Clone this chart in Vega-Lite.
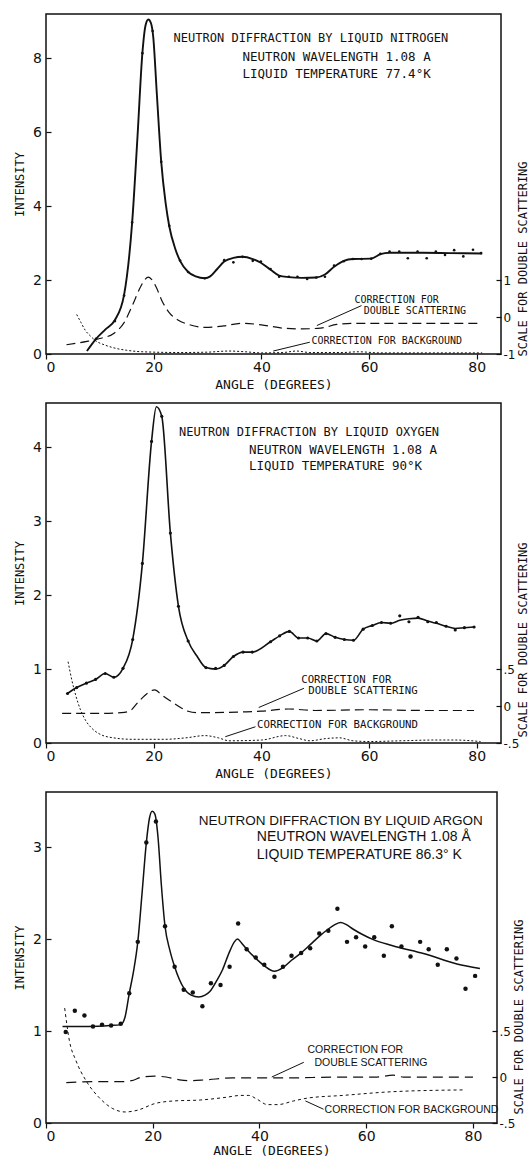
{
  "$schema": "https://vega.github.io/schema/vega-lite/v6.json",
  "padding": {"left": 12, "top": 13, "right": 1, "bottom": 0},
  "spacing": 10,
  "background": "white",
  "config": {
    "view": {"stroke": "#111", "strokeWidth": 1.5},
    "axis": {"grid": false, "domain": false, "tickColor": "#111", "labelColor": "#111", "titleColor": "#111", "labelFont": "DejaVu Sans", "labelFontSize": 14, "titleFont": "DejaVu Sans Mono", "titleFontWeight": "normal", "titleFontSize": 12, "tickWidth": 1.2},
    "text": {"color": "#111"}
  },
  "datasets": {
    "n_curve": [
      {"angle":7.6,"intensity":0.08},{"angle":9.3,"intensity":0.41},{"angle":11.0,"intensity":0.66},{"angle":12.8,"intensity":0.92},{"angle":14.5,"intensity":1.6},{"angle":16.0,"intensity":3.56},{"angle":17.0,"intensity":5.9},{"angle":17.9,"intensity":8.14},{"angle":18.5,"intensity":8.9},{"angle":19.0,"intensity":9.05},{"angle":19.5,"intensity":8.95},{"angle":19.9,"intensity":8.6},{"angle":20.6,"intensity":7.0},{"angle":21.4,"intensity":5.2},{"angle":22.2,"intensity":4.1},{"angle":22.9,"intensity":3.45},{"angle":24.0,"intensity":2.85},{"angle":24.9,"intensity":2.52},{"angle":26.4,"intensity":2.22},{"angle":27.8,"intensity":2.1},{"angle":29.5,"intensity":2.05},{"angle":30.5,"intensity":2.1},{"angle":31.8,"intensity":2.3},{"angle":33.1,"intensity":2.5},{"angle":34.8,"intensity":2.6},{"angle":36.5,"intensity":2.63},{"angle":38.4,"intensity":2.57},{"angle":39.9,"intensity":2.47},{"angle":41.7,"intensity":2.28},{"angle":43.3,"intensity":2.12},{"angle":45.1,"intensity":2.08},{"angle":47.5,"intensity":2.06},{"angle":50.2,"intensity":2.07},{"angle":51.8,"intensity":2.15},{"angle":53.5,"intensity":2.36},{"angle":55.3,"intensity":2.52},{"angle":57.0,"intensity":2.57},{"angle":60.4,"intensity":2.58},{"angle":62.1,"intensity":2.7},{"angle":63.8,"intensity":2.74},{"angle":70,"intensity":2.74},{"angle":75,"intensity":2.73},{"angle":81,"intensity":2.72}
    ],
    "n_pts": [
      {"angle":9.3,"intensity":0.41},{"angle":12.8,"intensity":0.89},{"angle":14.5,"intensity":1.58},{"angle":16.0,"intensity":3.56},{"angle":17.9,"intensity":8.14},{"angle":19.8,"intensity":8.74},{"angle":21.4,"intensity":5.2},{"angle":22.9,"intensity":3.47},{"angle":24.9,"intensity":2.53},{"angle":26.4,"intensity":2.22},{"angle":29.5,"intensity":2.05},{"angle":33.1,"intensity":2.54},{"angle":34.8,"intensity":2.48},{"angle":36.5,"intensity":2.63},{"angle":38.4,"intensity":2.52},{"angle":39.9,"intensity":2.5},{"angle":41.7,"intensity":2.3},{"angle":43.3,"intensity":2.09},{"angle":45.1,"intensity":2.09},{"angle":46.7,"intensity":2.09},{"angle":48.5,"intensity":2.03},{"angle":50.2,"intensity":2.07},{"angle":51.8,"intensity":2.09},{"angle":53.5,"intensity":2.39},{"angle":55.3,"intensity":2.51},{"angle":57.0,"intensity":2.57},{"angle":58.6,"intensity":2.57},{"angle":60.4,"intensity":2.58},{"angle":62.1,"intensity":2.71},{"angle":63.8,"intensity":2.77},{"angle":65.6,"intensity":2.77},{"angle":67.2,"intensity":2.59},{"angle":69.0,"intensity":2.77},{"angle":70.7,"intensity":2.59},{"angle":72.4,"intensity":2.77},{"angle":74.1,"intensity":2.68},{"angle":75.8,"intensity":2.81},{"angle":77.5,"intensity":2.64},{"angle":79.3,"intensity":2.82},{"angle":80.8,"intensity":2.73}
    ],
    "n_bg": [
      {"angle":5.7,"intensity":1.07},{"angle":6.5,"intensity":0.85},{"angle":7.3,"intensity":0.64},{"angle":8.3,"intensity":0.48},{"angle":9.3,"intensity":0.35},{"angle":10.8,"intensity":0.25},{"angle":12.5,"intensity":0.17},{"angle":15,"intensity":0.1},{"angle":18,"intensity":0.06},{"angle":25,"intensity":0.04},{"angle":30,"intensity":0.05},{"angle":34,"intensity":0.08},{"angle":37,"intensity":0.06},{"angle":40,"intensity":0.03},{"angle":44,"intensity":0.04},{"angle":46.5,"intensity":0.08},{"angle":49,"intensity":0.04},{"angle":55,"intensity":0.04},{"angle":58,"intensity":0.06},{"angle":62,"intensity":0.03},{"angle":81,"intensity":0.03}
    ],
    "n_double": [
      {"angle":3.8,"scale":-0.75},{"angle":7.6,"scale":-0.66},{"angle":10,"scale":-0.58},{"angle":12.5,"scale":-0.45},{"angle":14.5,"scale":-0.15},{"angle":16.0,"scale":0.3},{"angle":17.5,"scale":0.8},{"angle":18.4,"scale":1.02},{"angle":19.0,"scale":1.08},{"angle":19.6,"scale":1.02},{"angle":20.5,"scale":0.8},{"angle":21.5,"scale":0.45},{"angle":23.0,"scale":0.1},{"angle":24.5,"scale":-0.08},{"angle":26.5,"scale":-0.2},{"angle":29.5,"scale":-0.28},{"angle":33,"scale":-0.24},{"angle":36.3,"scale":-0.17},{"angle":40,"scale":-0.21},{"angle":44,"scale":-0.3},{"angle":47.5,"scale":-0.32},{"angle":51,"scale":-0.3},{"angle":54,"scale":-0.2},{"angle":57,"scale":-0.17},{"angle":81,"scale":-0.17}
    ],
    "n_arrows": [
      {"angle":50.3,"intensity":0.77,"angle2":58.6,"intensity2":1.31},
      {"angle":42.2,"intensity":0.08,"angle2":49.0,"intensity2":0.32}
    ],
    "n_text": [
      {"angle":23.7,"intensity":8.55,"label":"NEUTRON DIFFRACTION BY LIQUID NITROGEN","kind":"title"},
      {"angle":36.5,"intensity":8.04,"label":"NEUTRON WAVELENGTH  1.08 A","kind":"sub"},
      {"angle":36.5,"intensity":7.58,"label":"LIQUID TEMPERATURE  77.4°K","kind":"sub"},
      {"angle":57.3,"intensity":1.45,"label":"CORRECTION FOR","kind":"note"},
      {"angle":59.0,"intensity":1.16,"label":"DOUBLE SCATTERING","kind":"note"},
      {"angle":49.3,"intensity":0.35,"label":"CORRECTION FOR BACKGROUND","kind":"note"}
    ],
    "o_curve": [
      {"angle":4.0,"intensity":0.67},{"angle":5.7,"intensity":0.75},{"angle":7.5,"intensity":0.81},{"angle":9.2,"intensity":0.86},{"angle":11.0,"intensity":0.94},{"angle":12.6,"intensity":0.89},{"angle":14.3,"intensity":1.01},{"angle":16.1,"intensity":1.4},{"angle":17.9,"intensity":2.43},{"angle":19.6,"intensity":4.08},{"angle":20.5,"intensity":4.55},{"angle":21.5,"intensity":4.42},{"angle":23.1,"intensity":2.84},{"angle":24.6,"intensity":1.85},{"angle":26.4,"intensity":1.38},{"angle":28,"intensity":1.18},{"angle":29.7,"intensity":1.02},{"angle":31.5,"intensity":1.0},{"angle":33.1,"intensity":1.05},{"angle":34.8,"intensity":1.17},{"angle":36.6,"intensity":1.23},{"angle":38.3,"intensity":1.23},{"angle":41.7,"intensity":1.37},{"angle":43.4,"intensity":1.45},{"angle":45.2,"intensity":1.51},{"angle":46.9,"intensity":1.42},{"angle":48.6,"intensity":1.42},{"angle":50.3,"intensity":1.38},{"angle":52.0,"intensity":1.48},{"angle":53.7,"intensity":1.43},{"angle":55.4,"intensity":1.4},{"angle":57.1,"intensity":1.39},{"angle":58.9,"intensity":1.54},{"angle":60.6,"intensity":1.59},{"angle":62.3,"intensity":1.63},{"angle":64.0,"intensity":1.62},{"angle":65.7,"intensity":1.66},{"angle":67.4,"intensity":1.68},{"angle":69.1,"intensity":1.69},{"angle":70.9,"intensity":1.65},{"angle":72.5,"intensity":1.62},{"angle":74.3,"intensity":1.58},{"angle":76.0,"intensity":1.55},{"angle":77.7,"intensity":1.56},{"angle":79.5,"intensity":1.57}
    ],
    "o_pts": [
      {"angle":4.0,"intensity":0.67},{"angle":5.7,"intensity":0.75},{"angle":7.5,"intensity":0.81},{"angle":9.2,"intensity":0.86},{"angle":11.0,"intensity":0.94},{"angle":12.6,"intensity":0.89},{"angle":14.3,"intensity":1.01},{"angle":16.1,"intensity":1.4},{"angle":17.9,"intensity":2.43},{"angle":19.6,"intensity":4.08},{"angle":21.5,"intensity":4.42},{"angle":23.1,"intensity":2.84},{"angle":24.6,"intensity":1.85},{"angle":26.4,"intensity":1.38},{"angle":29.7,"intensity":1.02},{"angle":31.5,"intensity":1.01},{"angle":33.1,"intensity":1.05},{"angle":34.8,"intensity":1.17},{"angle":36.6,"intensity":1.23},{"angle":38.3,"intensity":1.23},{"angle":41.7,"intensity":1.37},{"angle":43.4,"intensity":1.45},{"angle":45.2,"intensity":1.51},{"angle":46.9,"intensity":1.42},{"angle":48.6,"intensity":1.42},{"angle":50.3,"intensity":1.38},{"angle":52.0,"intensity":1.48},{"angle":53.7,"intensity":1.43},{"angle":55.4,"intensity":1.4},{"angle":57.1,"intensity":1.39},{"angle":58.9,"intensity":1.54},{"angle":60.6,"intensity":1.59},{"angle":62.3,"intensity":1.63},{"angle":64.0,"intensity":1.62},{"angle":65.7,"intensity":1.72},{"angle":67.4,"intensity":1.64},{"angle":69.1,"intensity":1.7},{"angle":70.9,"intensity":1.64},{"angle":72.5,"intensity":1.63},{"angle":74.3,"intensity":1.58},{"angle":76.0,"intensity":1.53},{"angle":77.7,"intensity":1.56},{"angle":79.5,"intensity":1.57}
    ],
    "o_bg": [
      {"angle":4.1,"intensity":1.1},{"angle":4.8,"intensity":0.85},{"angle":5.5,"intensity":0.65},{"angle":6.4,"intensity":0.45},{"angle":7.4,"intensity":0.3},{"angle":8.5,"intensity":0.2},{"angle":10,"intensity":0.12},{"angle":12.5,"intensity":0.07},{"angle":16,"intensity":0.05},{"angle":22,"intensity":0.05},{"angle":26,"intensity":0.07},{"angle":29.5,"intensity":0.1},{"angle":32,"intensity":0.07},{"angle":34,"intensity":0.03},{"angle":40,"intensity":0.04},{"angle":44.5,"intensity":0.1},{"angle":47,"intensity":0.06},{"angle":49,"intensity":0.03},{"angle":52,"intensity":0.06},{"angle":54.5,"intensity":0.07},{"angle":57,"intensity":0.03},{"angle":60,"intensity":0.02},{"angle":66,"intensity":0.03},{"angle":72,"intensity":0.04},{"angle":76,"intensity":0.04},{"angle":80.7,"intensity":0.02}
    ],
    "o_double": [
      {"angle":3.0,"scale":-0.1},{"angle":10,"scale":-0.1},{"angle":14,"scale":-0.09},{"angle":15.5,"scale":-0.07},{"angle":17.2,"scale":0.06},{"angle":18.8,"scale":0.17},{"angle":20.2,"scale":0.22},{"angle":21.5,"scale":0.15},{"angle":23.3,"scale":0.06},{"angle":25,"scale":-0.02},{"angle":26.4,"scale":-0.07},{"angle":28,"scale":-0.09},{"angle":30.1,"scale":-0.09},{"angle":36.2,"scale":-0.08},{"angle":40,"scale":-0.07},{"angle":45,"scale":-0.04},{"angle":50,"scale":-0.06},{"angle":60,"scale":-0.05},{"angle":70,"scale":-0.06},{"angle":79.5,"scale":-0.06}
    ],
    "o_arrows": [
      {"angle":39.5,"intensity":0.48,"angle2":47.9,"intensity2":0.74},
      {"angle":33.3,"intensity":0.085,"angle2":38.9,"intensity2":0.22}
    ],
    "o_text": [
      {"angle":24.7,"intensity":4.21,"label":"NEUTRON DIFFRACTION BY LIQUID OXYGEN","kind":"title"},
      {"angle":37.7,"intensity":3.96,"label":"NEUTRON WAVELENGTH  1.08 A","kind":"sub"},
      {"angle":37.7,"intensity":3.75,"label":"LIQUID TEMPERATURE   90°K","kind":"sub"},
      {"angle":47.4,"intensity":0.85,"label":"CORRECTION FOR","kind":"note"},
      {"angle":48.7,"intensity":0.7,"label":"DOUBLE SCATTERING","kind":"note"},
      {"angle":39.2,"intensity":0.24,"label":"CORRECTION FOR BACKGROUND","kind":"note"}
    ],
    "a_curve": [
      {"angle":3.1,"intensity":1.05},{"angle":8,"intensity":1.05},{"angle":12,"intensity":1.06},{"angle":14.0,"intensity":1.07},{"angle":14.8,"intensity":1.15},{"angle":15.6,"intensity":1.41},{"angle":16.4,"intensity":1.65},{"angle":17.2,"intensity":1.97},{"angle":18.0,"intensity":2.5},{"angle":18.8,"intensity":3.05},{"angle":19.4,"intensity":3.32},{"angle":19.9,"intensity":3.39},{"angle":20.4,"intensity":3.36},{"angle":21.0,"intensity":3.1},{"angle":21.6,"intensity":2.6},{"angle":22.3,"intensity":2.14},{"angle":23.2,"intensity":1.88},{"angle":24.1,"intensity":1.7},{"angle":25.8,"intensity":1.47},{"angle":27.2,"intensity":1.39},{"angle":28.6,"intensity":1.37},{"angle":29.8,"intensity":1.39},{"angle":30.7,"intensity":1.43},{"angle":32.0,"intensity":1.55},{"angle":33.1,"intensity":1.67},{"angle":34.3,"intensity":1.85},{"angle":35.3,"intensity":1.97},{"angle":35.9,"intensity":2.0},{"angle":36.6,"intensity":1.96},{"angle":37.6,"intensity":1.89},{"angle":39.3,"intensity":1.79},{"angle":40.9,"intensity":1.71},{"angle":42.8,"intensity":1.65},{"angle":44.4,"intensity":1.69},{"angle":46.0,"intensity":1.77},{"angle":47.8,"intensity":1.85},{"angle":49.5,"intensity":1.94},{"angle":51.2,"intensity":2.03},{"angle":52.9,"intensity":2.11},{"angle":54.2,"intensity":2.16},{"angle":55.2,"intensity":2.18},{"angle":56.2,"intensity":2.16},{"angle":57.5,"intensity":2.11},{"angle":59.3,"intensity":2.05},{"angle":61.1,"intensity":2.0},{"angle":64.8,"intensity":1.93},{"angle":70.9,"intensity":1.84},{"angle":77.0,"intensity":1.73},{"angle":81.3,"intensity":1.68}
    ],
    "a_pts": [
      {"angle":3.7,"intensity":0.99},{"angle":5.4,"intensity":1.22},{"angle":7.2,"intensity":1.17},{"angle":8.8,"intensity":1.05},{"angle":10.5,"intensity":1.07},{"angle":12.2,"intensity":1.06},{"angle":14.0,"intensity":1.08},{"angle":15.6,"intensity":1.41},{"angle":17.2,"intensity":1.97},{"angle":18.8,"intensity":3.05},{"angle":20.6,"intensity":3.28},{"angle":22.3,"intensity":2.14},{"angle":24.1,"intensity":1.7},{"angle":25.8,"intensity":1.45},{"angle":27.5,"intensity":1.42},{"angle":29.3,"intensity":1.27},{"angle":30.9,"intensity":1.52},{"angle":32.7,"intensity":1.5},{"angle":34.4,"intensity":1.7},{"angle":36.0,"intensity":2.17},{"angle":37.6,"intensity":1.89},{"angle":39.3,"intensity":1.8},{"angle":40.9,"intensity":1.72},{"angle":42.8,"intensity":1.59},{"angle":44.4,"intensity":1.7},{"angle":46.0,"intensity":1.82},{"angle":47.8,"intensity":1.85},{"angle":49.5,"intensity":1.9},{"angle":51.2,"intensity":2.06},{"angle":52.9,"intensity":2.09},{"angle":54.6,"intensity":2.33},{"angle":56.4,"intensity":1.97},{"angle":58.1,"intensity":2.02},{"angle":59.8,"intensity":1.92},{"angle":61.5,"intensity":2.02},{"angle":63.3,"intensity":1.82},{"angle":64.8,"intensity":2.14},{"angle":66.6,"intensity":1.92},{"angle":68.3,"intensity":1.81},{"angle":70.1,"intensity":1.97},{"angle":71.7,"intensity":1.89},{"angle":73.4,"intensity":1.72},{"angle":75.1,"intensity":1.89},{"angle":76.9,"intensity":1.79},{"angle":78.6,"intensity":1.46},{"angle":80.4,"intensity":1.6}
    ],
    "a_bg": [
      {"angle":3.5,"intensity":1.25},{"angle":4.4,"intensity":0.89},{"angle":5.6,"intensity":0.68},{"angle":7.5,"intensity":0.46},{"angle":9.9,"intensity":0.28},{"angle":12.4,"intensity":0.16},{"angle":14.8,"intensity":0.12},{"angle":17.2,"intensity":0.14},{"angle":20.3,"intensity":0.21},{"angle":24.0,"intensity":0.24},{"angle":28.9,"intensity":0.25},{"angle":33.8,"intensity":0.28},{"angle":36.5,"intensity":0.3},{"angle":38,"intensity":0.3},{"angle":39.5,"intensity":0.26},{"angle":41.5,"intensity":0.2},{"angle":43.4,"intensity":0.2},{"angle":46.4,"intensity":0.24},{"angle":48.9,"intensity":0.27},{"angle":55.6,"intensity":0.3},{"angle":64.8,"intensity":0.34},{"angle":78.3,"intensity":0.36}
    ],
    "a_double": [
      {"angle":3.8,"scale":-0.06},{"angle":10,"scale":-0.05},{"angle":14.5,"scale":-0.05},{"angle":16,"scale":-0.04},{"angle":18,"scale":0.0},{"angle":20.3,"scale":0.01},{"angle":22.5,"scale":0.0},{"angle":25,"scale":-0.03},{"angle":27,"scale":-0.04},{"angle":30,"scale":-0.03},{"angle":35,"scale":-0.01},{"angle":45,"scale":-0.01},{"angle":55,"scale":0.0},{"angle":62,"scale":0.0},{"angle":65,"scale":0.02},{"angle":67,"scale":0.0},{"angle":80,"scale":0.0}
    ],
    "a_arrows": [
      {"angle":42.3,"intensity":0.5,"angle2":48.3,"intensity2":0.66},
      {"angle":48.6,"intensity":0.24,"angle2":52.0,"intensity2":0.15}
    ],
    "a_text": [
      {"angle":28.6,"intensity":3.28,"label":"NEUTRON  DIFFRACTION  BY LIQUID ARGON","kind":"title"},
      {"angle":39.5,"intensity":3.11,"label":"NEUTRON  WAVELENGTH  1.08 Å","kind":"sub"},
      {"angle":39.5,"intensity":2.92,"label":"LIQUID  TEMPERATURE  86.3° K","kind":"sub"},
      {"angle":49.0,"intensity":0.79,"label":"CORRECTION  FOR","kind":"note"},
      {"angle":50.3,"intensity":0.65,"label":"DOUBLE  SCATTERING","kind":"note"},
      {"angle":52.2,"intensity":0.14,"label":"CORRECTION FOR BACKGROUND","kind":"note"}
    ]
  },
  "vconcat": [
    {
      "width": 455, "height": 340,
      "resolve": {"scale": {"y": "independent"}},
      "layer": [
        {
          "layer": [
            {
              "data": {"name": "n_curve"},
              "mark": {"type": "line", "interpolate": "monotone", "strokeWidth": 1.9, "color": "#111"},
              "encoding": {
                "x": {"field": "angle", "type": "quantitative", "scale": {"domain": [0, 84.5], "nice": false, "zero": false},
                      "axis": {"values": [0, 20, 40, 60, 80], "title": "ANGLE  (DEGREES)", "titleFontSize": 13, "tickSize": 5, "labelPadding": 1, "minExtent": 20, "maxExtent": 20, "titlePadding": 4}},
                "y": {"field": "intensity", "type": "quantitative", "scale": {"domain": [0, 9.2], "nice": false, "zero": false},
                      "axis": {"values": [0, 1, 2, 3, 4, 5, 6, 7, 8, 9], "format": "d", "labelExpr": "datum.value % 2 === 0 ? datum.label : ''", "title": "INTENSITY", "tickSize": -5, "labelPadding": 9.5, "minExtent": 20, "maxExtent": 20, "titlePadding": 0}}
              }
            },
            {
              "data": {"name": "n_pts"},
              "mark": {"type": "circle", "size": 7, "color": "#111", "opacity": 1},
              "encoding": {"x": {"field": "angle", "type": "quantitative"}, "y": {"field": "intensity", "type": "quantitative"}}
            },
            {
              "data": {"name": "n_bg"},
              "mark": {"type": "line", "interpolate": "monotone", "strokeDash": [2, 2], "strokeWidth": 1, "color": "#111"},
              "encoding": {"x": {"field": "angle", "type": "quantitative"}, "y": {"field": "intensity", "type": "quantitative"}}
            },
            {
              "data": {"name": "n_arrows"},
              "mark": {"type": "rule", "strokeWidth": 1, "color": "#111"},
              "encoding": {"x": {"field": "angle", "type": "quantitative"}, "y": {"field": "intensity", "type": "quantitative"}, "x2": {"field": "angle2"}, "y2": {"field": "intensity2"}}
            },
            {
              "data": {"name": "n_text"},
              "transform": [{"filter": "datum.kind === 'title'"}],
              "mark": {"type": "text", "align": "left", "baseline": "middle", "font": "DejaVu Sans Mono", "fontSize": 12},
              "encoding": {"x": {"field": "angle", "type": "quantitative"}, "y": {"field": "intensity", "type": "quantitative"}, "text": {"field": "label"}}
            },
            {
              "data": {"name": "n_text"},
              "transform": [{"filter": "datum.kind === 'sub'"}],
              "mark": {"type": "text", "align": "left", "baseline": "middle", "font": "DejaVu Sans Mono", "fontSize": 12.5},
              "encoding": {"x": {"field": "angle", "type": "quantitative"}, "y": {"field": "intensity", "type": "quantitative"}, "text": {"field": "label"}}
            },
            {
              "data": {"name": "n_text"},
              "transform": [{"filter": "datum.kind === 'note'"}],
              "mark": {"type": "text", "align": "left", "baseline": "middle", "font": "DejaVu Sans Mono", "fontSize": 10},
              "encoding": {"x": {"field": "angle", "type": "quantitative"}, "y": {"field": "intensity", "type": "quantitative"}, "text": {"field": "label"}}
            }
          ]
        },
        {
          "data": {"name": "n_double"},
          "mark": {"type": "line", "interpolate": "monotone", "strokeDash": [9, 5], "strokeWidth": 1.2, "color": "#111"},
          "encoding": {
            "x": {"field": "angle", "type": "quantitative"},
            "y": {"field": "scale", "type": "quantitative", "scale": {"domain": [-1, 8.2], "nice": false, "zero": false},
                  "axis": {"orient": "right", "values": [-1, 0, 1], "format": "d", "labelExpr": "replace(datum.label, '−', '-')", "labelFontSize": 12, "title": "SCALE FOR DOUBLE SCATTERING", "titleAngle": 270, "titleBaseline": "top", "titleAlign": "left", "titleY": 342, "tickSize": -5, "labelPadding": 7, "minExtent": 14, "maxExtent": 14, "titlePadding": 2}}
          }
        }
      ]
    },
    {
      "width": 455, "height": 340,
      "resolve": {"scale": {"y": "independent"}},
      "layer": [
        {
          "layer": [
            {
              "data": {"name": "o_curve"},
              "mark": {"type": "line", "interpolate": "monotone", "strokeWidth": 1.6, "color": "#111"},
              "encoding": {
                "x": {"field": "angle", "type": "quantitative", "scale": {"domain": [0, 84.5], "nice": false, "zero": false},
                      "axis": {"values": [0, 20, 40, 60, 80], "title": "ANGLE  (DEGREES)", "titleFontSize": 13, "tickSize": 5, "labelPadding": 1, "minExtent": 20, "maxExtent": 20, "titlePadding": 4}},
                "y": {"field": "intensity", "type": "quantitative", "scale": {"domain": [0, 4.6], "nice": false, "zero": false},
                      "axis": {"values": [0, 1, 2, 3, 4], "format": "d", "title": "INTENSITY", "tickSize": -5, "labelPadding": 9.5, "minExtent": 20, "maxExtent": 20, "titlePadding": 0}}
              }
            },
            {
              "data": {"name": "o_pts"},
              "mark": {"type": "circle", "size": 10, "color": "#111", "opacity": 1},
              "encoding": {"x": {"field": "angle", "type": "quantitative"}, "y": {"field": "intensity", "type": "quantitative"}}
            },
            {
              "data": {"name": "o_bg"},
              "mark": {"type": "line", "interpolate": "monotone", "strokeDash": [2, 2], "strokeWidth": 1, "color": "#111"},
              "encoding": {"x": {"field": "angle", "type": "quantitative"}, "y": {"field": "intensity", "type": "quantitative"}}
            },
            {
              "data": {"name": "o_arrows"},
              "mark": {"type": "rule", "strokeWidth": 1, "color": "#111"},
              "encoding": {"x": {"field": "angle", "type": "quantitative"}, "y": {"field": "intensity", "type": "quantitative"}, "x2": {"field": "angle2"}, "y2": {"field": "intensity2"}}
            },
            {
              "data": {"name": "o_text"},
              "transform": [{"filter": "datum.kind === 'title'"}],
              "mark": {"type": "text", "align": "left", "baseline": "middle", "font": "DejaVu Sans Mono", "fontSize": 12},
              "encoding": {"x": {"field": "angle", "type": "quantitative"}, "y": {"field": "intensity", "type": "quantitative"}, "text": {"field": "label"}}
            },
            {
              "data": {"name": "o_text"},
              "transform": [{"filter": "datum.kind === 'sub'"}],
              "mark": {"type": "text", "align": "left", "baseline": "middle", "font": "DejaVu Sans Mono", "fontSize": 12.5},
              "encoding": {"x": {"field": "angle", "type": "quantitative"}, "y": {"field": "intensity", "type": "quantitative"}, "text": {"field": "label"}}
            },
            {
              "data": {"name": "o_text"},
              "transform": [{"filter": "datum.kind === 'note'"}],
              "mark": {"type": "text", "align": "left", "baseline": "middle", "font": "DejaVu Sans Mono", "fontSize": 10.7},
              "encoding": {"x": {"field": "angle", "type": "quantitative"}, "y": {"field": "intensity", "type": "quantitative"}, "text": {"field": "label"}}
            }
          ]
        },
        {
          "data": {"name": "o_double"},
          "mark": {"type": "line", "interpolate": "monotone", "strokeDash": [9, 5], "strokeWidth": 1.2, "color": "#111"},
          "encoding": {
            "x": {"field": "angle", "type": "quantitative"},
            "y": {"field": "scale", "type": "quantitative", "scale": {"domain": [-0.5, 4.1], "nice": false, "zero": false},
                  "axis": {"orient": "right", "values": [-0.5, 0, 0.5], "format": ".1~f", "labelExpr": "replace(replace(datum.label, '0.', '.'), '−', '-')", "labelFontSize": 12, "title": "SCALE FOR DOUBLE SCATTERING", "titleAngle": 270, "titleBaseline": "top", "titleAlign": "left", "titleY": 334, "tickSize": -5, "labelPadding": 7, "minExtent": 14, "maxExtent": 14, "titlePadding": 2}}
          }
        }
      ]
    },
    {
      "width": 451, "height": 331,
      "resolve": {"scale": {"y": "independent"}},
      "layer": [
        {
          "layer": [
            {
              "data": {"name": "a_curve"},
              "mark": {"type": "line", "interpolate": "monotone", "strokeWidth": 1.5, "color": "#111"},
              "encoding": {
                "x": {"field": "angle", "type": "quantitative", "scale": {"domain": [0, 84.5], "nice": false, "zero": false},
                      "axis": {"values": [0, 20, 40, 60, 80], "title": "ANGLE  (DEGREES)", "titleFontSize": 13, "tickSize": 5, "labelPadding": 1, "minExtent": 19, "maxExtent": 19, "titlePadding": 2}},
                "y": {"field": "intensity", "type": "quantitative", "scale": {"domain": [0, 3.6], "nice": false, "zero": false},
                      "axis": {"values": [0, 1, 2, 3], "format": "d", "title": "INTENSITY", "tickSize": -5, "labelPadding": 9.5, "minExtent": 20, "maxExtent": 20, "titlePadding": 0}}
              }
            },
            {
              "data": {"name": "a_pts"},
              "mark": {"type": "circle", "size": 20, "color": "#111", "opacity": 1},
              "encoding": {"x": {"field": "angle", "type": "quantitative"}, "y": {"field": "intensity", "type": "quantitative"}}
            },
            {
              "data": {"name": "a_bg"},
              "mark": {"type": "line", "interpolate": "monotone", "strokeDash": [3, 3], "strokeWidth": 1, "color": "#111"},
              "encoding": {"x": {"field": "angle", "type": "quantitative"}, "y": {"field": "intensity", "type": "quantitative"}}
            },
            {
              "data": {"name": "a_arrows"},
              "mark": {"type": "rule", "strokeWidth": 1, "color": "#111"},
              "encoding": {"x": {"field": "angle", "type": "quantitative"}, "y": {"field": "intensity", "type": "quantitative"}, "x2": {"field": "angle2"}, "y2": {"field": "intensity2"}}
            },
            {
              "data": {"name": "a_text"},
              "transform": [{"filter": "datum.kind === 'title'"}],
              "mark": {"type": "text", "align": "left", "baseline": "middle", "font": "Liberation Sans", "fontSize": 13.5},
              "encoding": {"x": {"field": "angle", "type": "quantitative"}, "y": {"field": "intensity", "type": "quantitative"}, "text": {"field": "label"}}
            },
            {
              "data": {"name": "a_text"},
              "transform": [{"filter": "datum.kind === 'sub'"}],
              "mark": {"type": "text", "align": "left", "baseline": "middle", "font": "Liberation Sans", "fontSize": 14},
              "encoding": {"x": {"field": "angle", "type": "quantitative"}, "y": {"field": "intensity", "type": "quantitative"}, "text": {"field": "label"}}
            },
            {
              "data": {"name": "a_text"},
              "transform": [{"filter": "datum.kind === 'note'"}],
              "mark": {"type": "text", "align": "left", "baseline": "middle", "font": "Liberation Sans", "fontSize": 10.5},
              "encoding": {"x": {"field": "angle", "type": "quantitative"}, "y": {"field": "intensity", "type": "quantitative"}, "text": {"field": "label"}}
            }
          ]
        },
        {
          "data": {"name": "a_double"},
          "mark": {"type": "line", "interpolate": "monotone", "strokeDash": [10, 6], "strokeWidth": 1.2, "color": "#111"},
          "encoding": {
            "x": {"field": "angle", "type": "quantitative"},
            "y": {"field": "scale", "type": "quantitative", "scale": {"domain": [-0.5, 3.1], "nice": false, "zero": false},
                  "axis": {"orient": "right", "values": [-0.5, 0, 0.5], "format": ".1~f", "labelExpr": "replace(replace(datum.label, '0.', '.'), '−', '-')", "labelFontSize": 12, "title": "SCALE FOR DOUBLE SCATTERING", "titleAngle": 270, "titleBaseline": "top", "titleAlign": "left", "titleY": 322, "tickSize": -5, "labelPadding": 7, "minExtent": 14, "maxExtent": 14, "titlePadding": 2}}
          }
        }
      ]
    }
  ]
}
